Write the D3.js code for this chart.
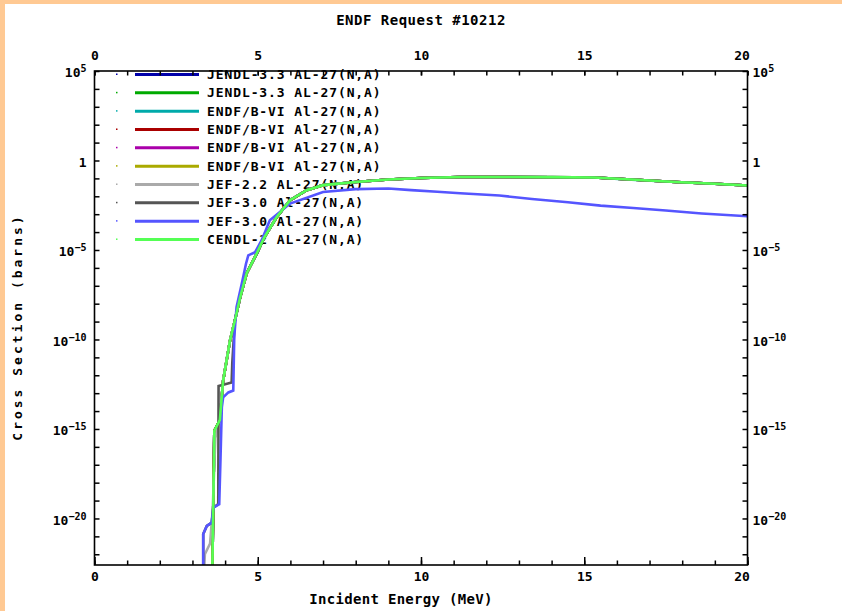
<!DOCTYPE html>
<html>
<head>
<meta charset="utf-8">
<script src="https://cdn.jsdelivr.net/npm/d3@7"></script>
<style>
  body { margin: 0; background: #fff; }
  svg { display: block; }
  text { font-family: "DejaVu Sans Mono", "Liberation Mono", monospace; fill: #000; }
</style>
</head>
<body>
<div id="chart"></div>
<script>
// ---- data (energies in MeV, cross sections in barns) ----
const energyCendl = [3.60, 3.64, 3.67, 3.84, 3.94, 4.15, 4.30, 4.46, 4.66, 4.97, 5.20, 5.58, 5.99, 6.50, 7.00, 8.00, 9.00, 10.0, 11.2, 12.7, 14.0, 15.3, 16.3, 17.8, 19.0, 20.0]
const sigmaCendl = [1e-24, 1e-19, 8e-16, 3.2e-15, 5e-13, 8.7e-11, 1.15e-9, 2.2e-8, 5e-7, 6.5e-6, 5e-5, 6.9e-4, 6e-3, 0.022, 0.042, 0.063, 0.087, 0.105, 0.12, 0.12, 0.117, 0.112, 0.089, 0.063, 0.05, 0.04]

// evaluations hidden under CENDL-2 (same energy grid)
const sigmaJendlA = [1e-24, 1e-19, 7.9e-16, 3.18e-15, 4.98e-13, 8.68e-11, 1.148e-9, 2.19e-8, 4.98e-7, 6.48e-6, 4.98e-5, 6.88e-4, 5.98e-3, 0.0219, 0.0419, 0.0628, 0.0868, 0.1048, 0.1197, 0.1197, 0.1167, 0.1117, 0.0888, 0.0628, 0.0498, 0.0399]
const sigmaJendlB = [1e-24, 1e-19, 7.95e-16, 3.19e-15, 4.99e-13, 8.69e-11, 1.149e-9, 2.195e-8, 4.99e-7, 6.49e-6, 4.99e-5, 6.89e-4, 5.99e-3, 0.02195, 0.04195, 0.0629, 0.0869, 0.1049, 0.1198, 0.1198, 0.1168, 0.1118, 0.0889, 0.0629, 0.0499, 0.03995]
const sigmaEndfA = [1e-24, 1e-19, 7.8e-16, 3.1e-15, 4.9e-13, 8.5e-11, 1.13e-9, 2.15e-8, 4.9e-7, 6.4e-6, 4.9e-5, 6.8e-4, 5.9e-3, 0.0218, 0.0416, 0.0625, 0.0865, 0.1043, 0.1192, 0.1192, 0.1163, 0.1113, 0.0885, 0.0626, 0.0497, 0.0397]
const sigmaEndfB = [1e-24, 1e-19, 7.85e-16, 3.15e-15, 4.95e-13, 8.6e-11, 1.14e-9, 2.18e-8, 4.95e-7, 6.45e-6, 4.95e-5, 6.85e-4, 5.95e-3, 0.0219, 0.0418, 0.0627, 0.0867, 0.1046, 0.1195, 0.1195, 0.1165, 0.1115, 0.0887, 0.0627, 0.0498, 0.0398]
const sigmaEndfC = [1e-24, 1e-19, 7.9e-16, 3.17e-15, 4.97e-13, 8.65e-11, 1.145e-9, 2.19e-8, 4.97e-7, 6.47e-6, 4.97e-5, 6.87e-4, 5.97e-3, 0.0219, 0.0419, 0.0628, 0.0868, 0.1047, 0.1196, 0.1196, 0.1166, 0.1116, 0.0888, 0.0628, 0.0498, 0.0398]
const sigmaEndfD = [1e-24, 1e-19, 7.92e-16, 3.18e-15, 4.98e-13, 8.66e-11, 1.146e-9, 2.19e-8, 4.98e-7, 6.48e-6, 4.98e-5, 6.88e-4, 5.98e-3, 0.0219, 0.0419, 0.0628, 0.0868, 0.1048, 0.1197, 0.1197, 0.1167, 0.1117, 0.0888, 0.0628, 0.0499, 0.0399]

const energyJef22 = [3.33, 3.38, 3.54, 3.62, 3.70, 3.85, 3.94, 4.15, 4.30, 4.46, 4.66, 4.97, 5.20, 5.58, 5.99, 6.50, 7.00, 8.00, 9.00, 10.0, 11.2, 12.7, 14.0, 15.3, 16.3, 17.8, 19.0, 20.0]
const sigmaJef22 = [1e-24, 1e-22, 4e-22, 3e-20, 3e-16, 6e-15, 5.5e-13, 9e-11, 1.2e-9, 2.3e-8, 5.2e-7, 6.8e-6, 5.2e-5, 7.1e-4, 6.2e-3, 0.0222, 0.0422, 0.0632, 0.0872, 0.1052, 0.1202, 0.1202, 0.1172, 0.1121, 0.0891, 0.0631, 0.0501, 0.0401]

const energyJef30a = [3.33, 3.33, 3.44, 3.59, 3.64, 3.79, 3.80, 4.20, 4.22, 4.30, 4.46, 4.66, 5.00, 5.20, 5.60, 6.00, 6.50, 7.00, 8.00, 9.00, 10.0, 11.2, 12.7, 14.0, 15.3, 16.3, 17.8, 19.0, 20.0]
const sigmaJef30a = [1e-24, 1.35e-21, 3.8e-21, 5.8e-21, 4e-20, 6.3e-20, 2.5e-13, 4e-13, 5e-12, 1.2e-9, 2.4e-8, 5.4e-7, 7.6e-6, 5.4e-5, 7.6e-4, 6.2e-3, 0.0222, 0.0423, 0.0633, 0.0873, 0.1053, 0.1203, 0.1203, 0.1173, 0.1122, 0.0892, 0.0632, 0.0502, 0.0401]

const energyJef30b = [3.33, 3.33, 3.44, 3.59, 3.64, 3.82, 3.86, 3.90, 3.94, 4.10, 4.25, 4.28, 4.35, 4.51, 4.64, 4.71, 4.92, 5.12, 5.37, 5.99, 7.0, 8.0, 9.0, 9.7, 10.5, 11.2, 12.4, 13.4, 14.5, 15.5, 16.5, 17.5, 18.6, 20.0]
const sigmaJef30b = [1e-24, 1.35e-21, 3.8e-21, 5.8e-21, 4e-20, 6.3e-20, 2.5e-17, 1.6e-14, 5.8e-14, 1.1e-13, 1.4e-13, 1.3e-10, 6.3e-9, 1.3e-7, 1.7e-6, 5e-6, 7.6e-6, 3.5e-5, 4.6e-4, 3.9e-3, 0.0174, 0.025, 0.027, 0.022, 0.0178, 0.0148, 0.011, 0.0071, 0.0046, 0.003, 0.0022, 0.0016, 0.0011, 0.00076]

const seriesNames = ["JENDL-3.3 AL-27(N,A)", "JENDL-3.3 AL-27(N,A)", "ENDF/B-VI Al-27(N,A)", "ENDF/B-VI Al-27(N,A)", "ENDF/B-VI Al-27(N,A)", "ENDF/B-VI Al-27(N,A)", "JEF-2.2 AL-27(N,A)", "JEF-3.0 Al-27(N,A)", "JEF-3.0 Al-27(N,A)", "CENDL-2 AL-27(N,A)"]
const seriesColors = ["#0000aa", "#00aa00", "#00aaaa", "#aa0000", "#aa00aa", "#aaaa00", "#aaaaaa", "#555555", "#5555ff", "#55ff55"]
const seriesEnergy = [energyCendl, energyCendl, energyCendl, energyCendl, energyCendl, energyCendl, energyJef22, energyJef30a, energyJef30b, energyCendl]
const seriesSigma = [sigmaJendlA, sigmaJendlB, sigmaEndfA, sigmaEndfB, sigmaEndfC, sigmaEndfD, sigmaJef22, sigmaJef30a, sigmaJef30b, sigmaCendl]

const xTicksMajor = [0, 5, 10, 15, 20]
const xTicksMinor = d3.range(0, 21)
const yTicksMajor = [1e5, 1, 1e-5, 1e-10, 1e-15, 1e-20]
const yTicksMinor = d3.range(5, -23, -1).map(p => Math.pow(10, p))

// ---- layout ----
const width = 842
const height = 611
const plot = {left: 94.5, right: 747.5, top: 71, bottom: 565}

const svg = d3.select("#chart").append("svg")
              .attr("width", width)
              .attr("height", height)

// page border stripes
svg.append("rect").attr("x", 0).attr("y", 0).attr("width", width).attr("height", 4).attr("fill", "#ffc993")
svg.append("rect").attr("x", 0).attr("y", 0).attr("width", 5).attr("height", height).attr("fill", "#ffc993")

// scales
const xScale = d3.scaleLinear().domain([0, 20]).range([plot.left, plot.right])
const yScale = d3.scaleLog().domain([Math.pow(10, -22.6), 1e5]).range([plot.bottom, plot.top])

// title
svg.append("text")
   .attr("x", 421).attr("y", 25)
   .attr("text-anchor", "middle")
   .attr("font-size", "14px").attr("font-weight", "bold")
   .attr("letter-spacing", "0.5px")
   .text("ENDF Request #10212")

// legend (drawn under the curves)
const legend = svg.append("g")
seriesNames.forEach((name, i) => {
    const ly = 74.5 + i * 18.33
    legend.append("rect").attr("x", 116).attr("y", ly - 1).attr("width", 1.5).attr("height", 1.5).attr("fill", seriesColors[i])
    legend.append("line")
          .attr("x1", 135).attr("x2", 199).attr("y1", ly).attr("y2", ly)
          .attr("stroke", seriesColors[i]).attr("stroke-width", 3)
    legend.append("text")
          .attr("x", 207).attr("y", ly + 4.5)
          .attr("font-size", "13px").attr("font-weight", "bold")
          .attr("letter-spacing", "0.9px")
          .text(name)
})

// curves
svg.append("clipPath").attr("id", "plot-clip")
   .append("rect")
   .attr("x", plot.left).attr("y", plot.top)
   .attr("width", plot.right - plot.left).attr("height", plot.bottom - plot.top)

const lineGenerator = d3.line()
                        .x(d => xScale(d[0]))
                        .y(d => yScale(d[1]))
const curves = svg.append("g").attr("clip-path", "url(#plot-clip)")
seriesNames.forEach((name, i) => {
    const pts = seriesEnergy[i].map((e, k) => [e, seriesSigma[i][k]])
    curves.append("path")
          .attr("d", lineGenerator(pts))
          .attr("fill", "none")
          .attr("stroke", seriesColors[i])
          .attr("stroke-width", 2.6)
          .attr("stroke-linejoin", "miter")
})

// axes
function styleAxis(g) {
    g.selectAll(".domain").remove()
    g.selectAll(".tick line").attr("stroke", "#000").attr("stroke-width", 1.5)
    g.selectAll("text").attr("font-size", "13px").attr("font-weight", "bold")
       .attr("font-family", "DejaVu Sans Mono, monospace")
}

svg.append("g").attr("transform", `translate(0, ${plot.bottom})`)
   .call(d3.axisBottom(xScale).tickValues(xTicksMinor).tickSize(-4.5).tickFormat(""))
   .call(styleAxis)
svg.append("g").attr("transform", `translate(0, ${plot.bottom})`)
   .call(d3.axisBottom(xScale).tickValues(xTicksMajor).tickSize(-8).tickPadding(6))
   .call(styleAxis)
   .call(g => g.selectAll("text").attr("dy", "0.75em").attr("dx", d => d === 20 ? -6 : 0))
svg.append("g").attr("transform", `translate(0, ${plot.top})`)
   .call(d3.axisTop(xScale).tickValues(xTicksMinor).tickSize(-4.5).tickFormat(""))
   .call(styleAxis)
svg.append("g").attr("transform", `translate(0, ${plot.top})`)
   .call(d3.axisTop(xScale).tickValues(xTicksMajor).tickSize(-4.5).tickPadding(11))
   .call(styleAxis)
   .call(g => g.selectAll("text").attr("dx", d => d === 20 ? -6 : 0))

function powerLabel(sel) {
    sel.each(function(d) {
        const t = d3.select(this).text("")
        const p = Math.round(Math.log10(d))
        if (p === 0) { t.append("tspan").text("1"); return }
        t.append("tspan").text("10")
        t.append("tspan").attr("dy", "-5").attr("font-size", "10px")
         .text(p < 0 ? "\u2212" + (-p) : String(p))
    })
}

svg.append("g").attr("transform", `translate(${plot.left}, 0)`)
   .call(d3.axisLeft(yScale).tickValues(yTicksMinor).tickSize(-5).tickFormat(""))
   .call(styleAxis)
svg.append("g").attr("transform", `translate(${plot.left}, 0)`)
   .call(d3.axisLeft(yScale).tickValues(yTicksMajor).tickSize(0).tickPadding(8))
   .call(styleAxis)
   .call(g => g.selectAll("text").attr("dy", "0.45em").call(powerLabel))
svg.append("g").attr("transform", `translate(${plot.right}, 0)`)
   .call(d3.axisRight(yScale).tickValues(yTicksMinor).tickSize(-5).tickFormat(""))
   .call(styleAxis)
svg.append("g").attr("transform", `translate(${plot.right}, 0)`)
   .call(d3.axisRight(yScale).tickValues(yTicksMajor).tickSize(0).tickPadding(5))
   .call(styleAxis)
   .call(g => g.selectAll("text").attr("dy", "0.45em").call(powerLabel))

// frame
svg.append("rect")
   .attr("x", plot.left).attr("y", plot.top)
   .attr("width", plot.right - plot.left).attr("height", plot.bottom - plot.top)
   .attr("fill", "none").attr("stroke", "#000").attr("stroke-width", 1.6)

// axis titles
svg.append("text")
   .attr("x", 401).attr("y", 604)
   .attr("text-anchor", "middle")
   .attr("font-size", "14px").attr("font-weight", "bold")
   .attr("letter-spacing", "0.3px")
   .text("Incident Energy (MeV)")
svg.append("text")
   .attr("transform", "translate(22, 327) rotate(-90)")
   .attr("text-anchor", "middle")
   .attr("font-size", "13px").attr("font-weight", "bold")
   .attr("letter-spacing", "3px")
   .text("Cross Section (barns)")
</script>
</body>
</html>
